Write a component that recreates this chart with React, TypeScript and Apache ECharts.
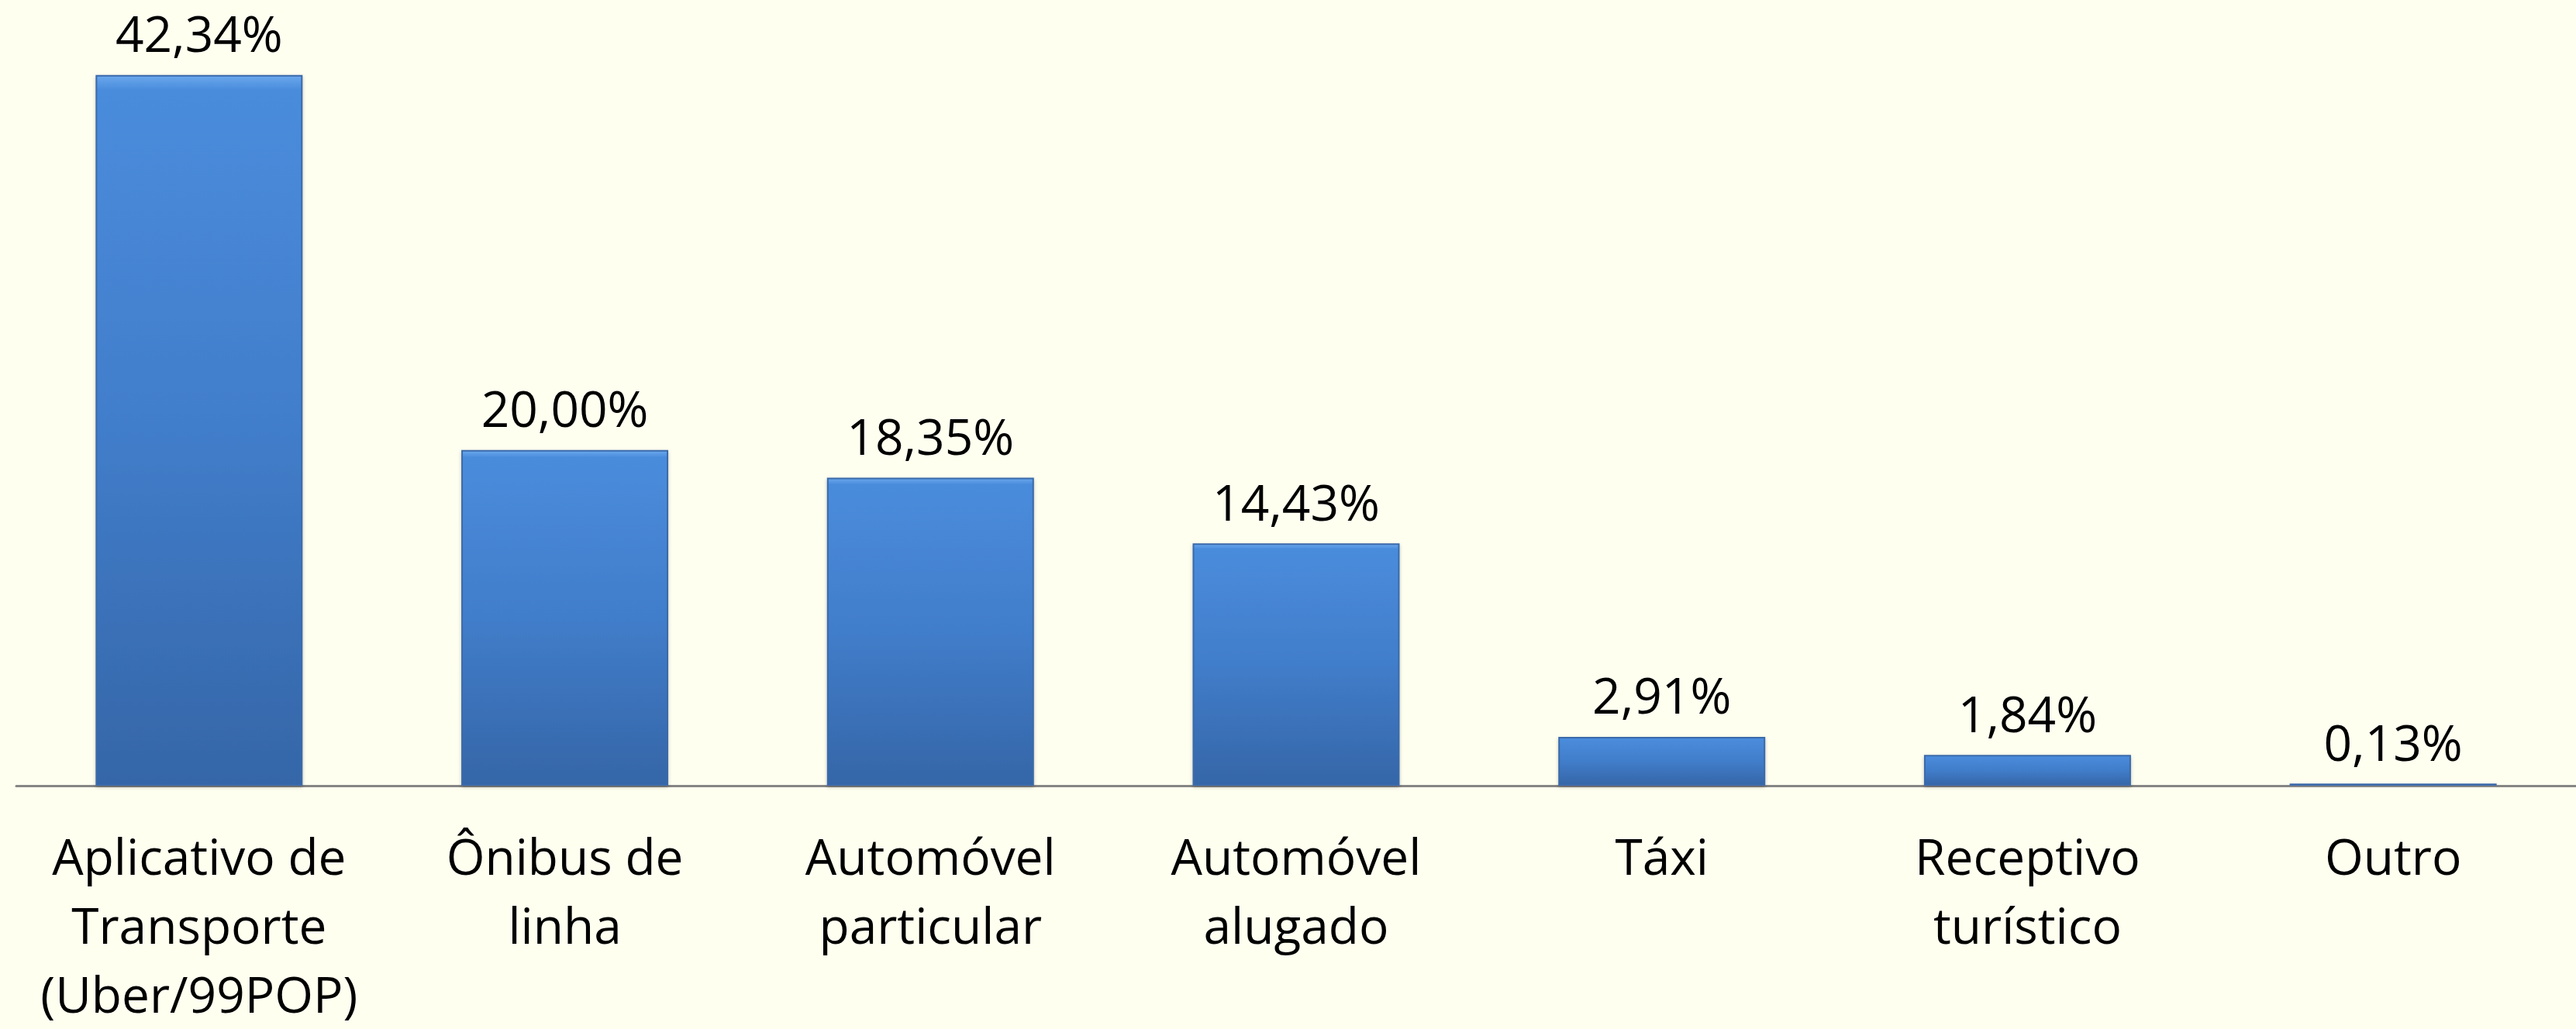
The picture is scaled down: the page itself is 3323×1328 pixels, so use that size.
import React, { useEffect, useRef } from "react";
import * as echarts from "echarts";

const categories = [
  "Aplicativo de\nTransporte\n(Uber/99POP)",
  "Ônibus de\nlinha",
  "Automóvel\nparticular",
  "Automóvel\nalugado",
  "Táxi",
  "Receptivo\nturístico",
  "Outro",
];
const values = [42.34, 20.0, 18.35, 14.43, 2.91, 1.84, 0.13];

const fontFamily = "'Open Sans', 'Noto Sans', sans-serif";

export default function App() {
  const ref = useRef<HTMLDivElement>(null);
  useEffect(() => {
    if (!ref.current) return;
    const chart = echarts.init(ref.current, null, { renderer: "svg" });
    chart.setOption({
      animation: false,
      backgroundColor: "#FFFFF0",
      grid: { left: 21, right: 0, top: 39, bottom: 314, containLabel: false },
      xAxis: {
        type: "category",
        data: categories,
        axisLine: { show: true, lineStyle: { color: "#868686", width: 3 } },
        axisTick: { show: false },
        axisLabel: {
          interval: 0,
          color: "#000",
          fontFamily,
          fontSize: 64,
          lineHeight: 89,
          margin: 46,
        },
      },
      yAxis: {
        type: "value",
        min: 0,
        max: 45,
        show: false,
        splitLine: { show: false },
      },
      series: [
        {
          type: "bar",
          data: values,
          barWidth: "56.6%",
          itemStyle: {
            color: new echarts.graphic.LinearGradient(0, 0, 0, 1, [
              { offset: 0, color: "#6AA8EC" },
              { offset: 0.02, color: "#4A8CDC" },
              { offset: 0.5, color: "#417DCA" },
              { offset: 1, color: "#3566A8" },
            ]),
            borderColor: "#3A6AAA",
            borderWidth: 2,
            shadowColor: "rgba(0,0,0,0.25)",
            shadowBlur: 4,
            shadowOffsetY: 2,
          },
          label: {
            show: true,
            position: "top",
            distance: 26,
            color: "#000",
            fontFamily,
            fontSize: 64,
            lineHeight: 56,
            formatter: (p: any) => p.value.toFixed(2).replace(".", ",") + "%",
          },
        },
      ],
    });
    return () => chart.dispose();
  }, []);
  return (
    <div
      ref={ref}
      style={{ position: "absolute", left: 0, top: 0, width: 3323, height: 1328 }}
    />
  );
}
